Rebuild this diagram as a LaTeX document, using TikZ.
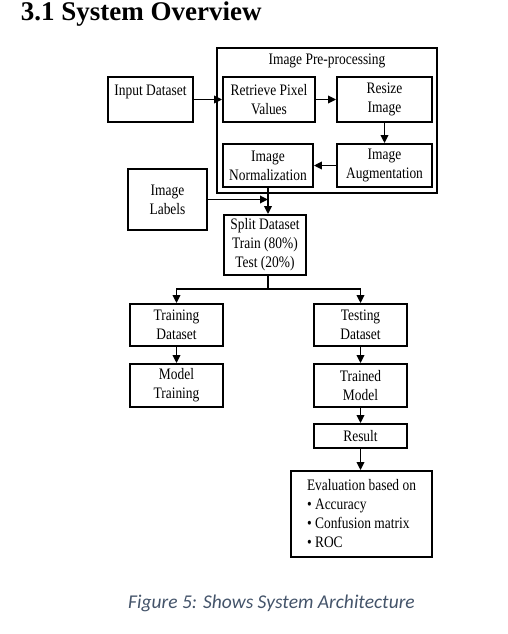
\documentclass[tikz,border=0pt]{standalone}
\usepackage{fontspec}
\setmainfont{Liberation Serif}
\newfontfamily\boxfont[FakeStretch=0.84]{Liberation Serif}
\newfontfamily\capfont{Carlito}
\usetikzlibrary{arrows.meta}
\definecolor{capgrey}{HTML}{44546A}

\tikzset{
  txt/.style={inner sep=0pt, align=center, font=\boxfont\fontsize{16}{19}\selectfont},
  blk/.style={txt, draw, line width=1.8pt},
  flow/.style={line width=1.7pt, -{Triangle[length=8pt,width=7.5pt]}},
}

\begin{document}
\begin{tikzpicture}[x=1pt, y=-1pt, line width=1.7pt]
  \useasboundingbox (0,0) rectangle (507,634);

  % -- heading ------------------------------------------------------------
  \node[anchor=base west, inner sep=0pt, font=\bfseries\fontsize{27}{30}\selectfont] (ttl) at (20,21) {3.1 System Overview};

  % -- the pre-processing block and what goes into it ----------------------
  \node[blk, minimum width=220pt, minimum height=145pt] (prep) at (327,120.5) {};
  \node[txt] (prept) at (327,61) {Image Pre-processing};
  \node[blk, minimum width=85pt, minimum height=45pt] (inds) at (150.5,99.5) {};
  \node[txt] (indst) at (150.5,92) {Input Dataset};
  \node[blk, minimum width=92pt, minimum height=45pt] (pxvl) at (269,99.5) {Retrieve Pixel\\Values};
  \node[blk, minimum width=95pt, minimum height=45pt] (rsze) at (384.5,99.5) {Resize\\Image};
  \node[blk, minimum width=95pt, minimum height=43pt] (augm) at (384.5,165.5) {Image\\Augmentation};
  \node[blk, minimum width=90pt, minimum height=43pt] (norm) at (268,165.5) {Image\\Normalization};
  \node[blk, minimum width=79pt, minimum height=61pt] (lbls) at (167.5,199.5) {Image\\Labels};

  % -- split and the two branches ------------------------------------------
  \node[blk, minimum width=82pt, minimum height=60pt] (splt) at (265,245) {Split Dataset\\Train (80\%)\\Test (20\%)};
  \node[blk, minimum width=93pt, minimum height=42pt] (trds) at (176.5,325) {Training\\Dataset};
  \node[blk, minimum width=93pt, minimum height=43pt] (mtrn) at (176.5,385.5) {Model\\Training};
  \node[blk, minimum width=93pt, minimum height=42pt] (tsds) at (360.5,325) {Testing\\Dataset};
  \node[blk, minimum width=93pt, minimum height=43pt] (tmod) at (360.5,385.5) {Trained\\Model};
  \node[blk, minimum width=93pt, minimum height=24pt] (rslt) at (360.5,436) {Result};
  \node[blk, minimum width=141pt, minimum height=86pt, align=left] (eval) at (361.5,514)
    {Evaluation based on\\\textbullet\ Accuracy\\\textbullet\ Confusion matrix\\\textbullet\ ROC};

  % -- connectors ----------------------------------------------------------
  \draw[flow] (inds) -- (pxvl);
  \draw[flow] (pxvl) -- (rsze);
  \draw[flow] (rsze) -- (augm);
  \draw[flow] (augm) -- (norm);
  \draw[flow] (norm.south) -- (norm.south |- splt.north);
  \draw[flow] (lbls.east) -- (lbls.east -| norm.south);
  \draw (norm.south |- splt.south) -- ++(0,13) coordinate (fork);
  \draw[flow] (fork) -| (trds.north);
  \draw[flow] (fork) -| (tsds.north);
  \draw[flow] (trds) -- (mtrn);
  \draw[flow] (tsds) -- (tmod);
  \draw[flow] (tmod) -- (rslt);
  \draw[flow] (rslt.south) -- (rslt.south |- eval.north);

  % -- caption -------------------------------------------------------------
  \node[inner sep=0pt, text=capgrey, font=\capfont\itshape\fontsize{19.5}{23}\selectfont] (capt) at (271.5,603) {Figure 5: Shows System Architecture};

\end{tikzpicture}
\end{document}
